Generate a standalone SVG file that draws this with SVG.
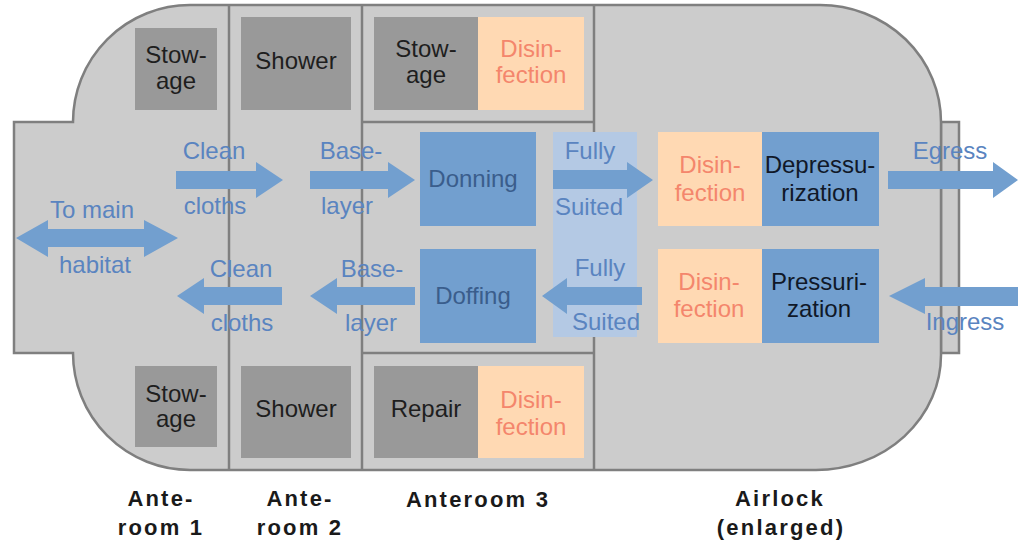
<svg xmlns="http://www.w3.org/2000/svg" width="1018" height="542" viewBox="0 0 1018 542">
<style>
text{font-family:"Liberation Sans",Arial,sans-serif;font-size:24px;text-anchor:middle}
.wall{fill:#cccccc;stroke:#7f7f7f;stroke-width:2.5}
.div{stroke:#7f7f7f;stroke-width:2.5;fill:none}
.gray{fill:#999999}
.peach{fill:#ffd9b3}
.blue{fill:#729fcf}
.band{fill:#b4c9e4}
.arr{fill:#729fcf}
.tk{fill:#1e1e1e}
.tp{fill:#f4866c}
.tb{fill:#5a84c0}
.td{fill:#3a5d8c}
.tn{fill:#101828}
.lbl{font-weight:bold;font-size:22px;letter-spacing:2.2px;fill:#1a1a1a}
</style>
<rect width="1018" height="542" fill="#ffffff"/>
<g id="hull">
<rect class="wall" x="941" y="122" width="18" height="231"/>
<path class="wall" d="M14,122 H73 A117,117 0 0 1 190,5 H820 A121,117 0 0 1 941,122 V355 A125,115 0 0 1 816,470 H190 A117,117 0 0 1 73,353 H14 Z"/>
<path class="div" d="M229,5 V470 M362,5 V470 M594,5 V470 M362,122 H594 M362,353 H594"/>
</g>
<g id="band-fully-suited"><rect class="band" x="553" y="132" width="84" height="205"/></g>
<g id="stowage-1-top"><rect class="gray" x="135" y="28" width="82" height="82"/><text class="tk" x="176" y="63">Stow-</text><text class="tk" x="176" y="89">age</text></g>
<g id="shower-top"><rect class="gray" x="241" y="17" width="110" height="93"/><text class="tk" x="296" y="69">Shower</text></g>
<g id="stowage-3-top"><rect class="gray" x="374" y="17" width="104" height="93"/><text class="tk" x="426" y="57">Stow-</text><text class="tk" x="426" y="83">age</text></g>
<g id="disinfection-3-top"><rect class="peach" x="478" y="17" width="106" height="93"/><text class="tp" x="531" y="57">Disin-</text><text class="tp" x="531" y="83">fection</text></g>
<g id="donning"><rect class="blue" x="420" y="132" width="116" height="94"/><text class="td" x="473" y="187">Donning</text></g>
<g id="doffing"><rect class="blue" x="420" y="249" width="116" height="94"/><text class="td" x="473" y="304">Doffing</text></g>
<g id="disinfection-al-1"><rect class="peach" x="658" y="132" width="104" height="94"/><text class="tp" x="710" y="173">Disin-</text><text class="tp" x="710" y="201">fection</text></g>
<g id="depressurization"><rect class="blue" x="762" y="132" width="117" height="94"/><text class="tn" x="820" y="173">Depressu-</text><text class="tn" x="820" y="201">rization</text></g>
<g id="disinfection-al-2"><rect class="peach" x="658" y="249" width="104" height="94"/><text class="tp" x="709" y="290">Disin-</text><text class="tp" x="709" y="317">fection</text></g>
<g id="pressurization"><rect class="blue" x="762" y="249" width="117" height="94"/><text class="tn" x="819" y="290">Pressuri-</text><text class="tn" x="819" y="317">zation</text></g>
<g id="stowage-1-bottom"><rect class="gray" x="135" y="366" width="82" height="81"/><text class="tk" x="176" y="402">Stow-</text><text class="tk" x="176" y="427">age</text></g>
<g id="shower-bottom"><rect class="gray" x="241" y="366" width="110" height="92"/><text class="tk" x="296" y="417">Shower</text></g>
<g id="repair"><rect class="gray" x="374" y="366" width="104" height="92"/><text class="tk" x="426" y="417">Repair</text></g>
<g id="disinfection-3-bottom"><rect class="peach" x="478" y="366" width="106" height="92"/><text class="tp" x="531" y="408">Disin-</text><text class="tp" x="531" y="435">fection</text></g>
<g id="connectors">
<polygon class="arr" points="176,171 256,171 256,162 283,180 256,198 256,189 176,189"/>
<polygon class="arr" points="310,171 388,171 388,162 415,180 388,198 388,189 310,189"/>
<polygon class="arr" points="553,170 627,170 627,162 653,180 627,198 627,189 553,189"/>
<polygon class="arr" points="888,171 993,171 993,162 1018,180 1018,180 993,198 993,189 888,189"/>
<polygon class="arr" points="16,238 48,220 48,229 144,229 144,220 178,238 144,257 144,247 48,247 48,257"/>
<polygon class="arr" points="177,296 204,278 204,287 282,287 282,305 204,305 204,314"/>
<polygon class="arr" points="310,296 337,278 337,287 415,287 415,305 337,305 337,314"/>
<polygon class="arr" points="542,296 567,278 567,287 642,287 642,305 567,305 567,314"/>
<polygon class="arr" points="889,296 925,278 925,287 1018,287 1018,306 925,306 925,314"/>
</g>
<g id="arrow-labels">
<text class="tb" x="214" y="159">Clean</text><text class="tb" x="215" y="214">cloths</text>
<text class="tb" x="351" y="159">Base-</text><text class="tb" x="347" y="214">layer</text>
<text class="tb" x="590" y="159">Fully</text><text class="tb" x="589" y="215">Suited</text>
<text class="tb" x="950" y="159">Egress</text>
<text class="tb" x="92" y="218">To main</text><text class="tb" x="95" y="273">habitat</text>
<text class="tb" x="241" y="277">Clean</text><text class="tb" x="242" y="331">cloths</text>
<text class="tb" x="372" y="277">Base-</text><text class="tb" x="371" y="331">layer</text>
<text class="tb" x="600" y="276">Fully</text><text class="tb" x="606" y="330">Suited</text>
<text class="tb" x="965" y="330">Ingress</text>
</g>
<g id="room-labels">
<text class="lbl" x="161" y="506">Ante-</text><text class="lbl" x="161" y="535">room 1</text>
<text class="lbl" x="300" y="506">Ante-</text><text class="lbl" x="300" y="535">room 2</text>
<text class="lbl" x="478" y="507">Anteroom 3</text>
<text class="lbl" x="780" y="506">Airlock</text><text class="lbl" x="781" y="535">(enlarged)</text>
</g>
</svg>
